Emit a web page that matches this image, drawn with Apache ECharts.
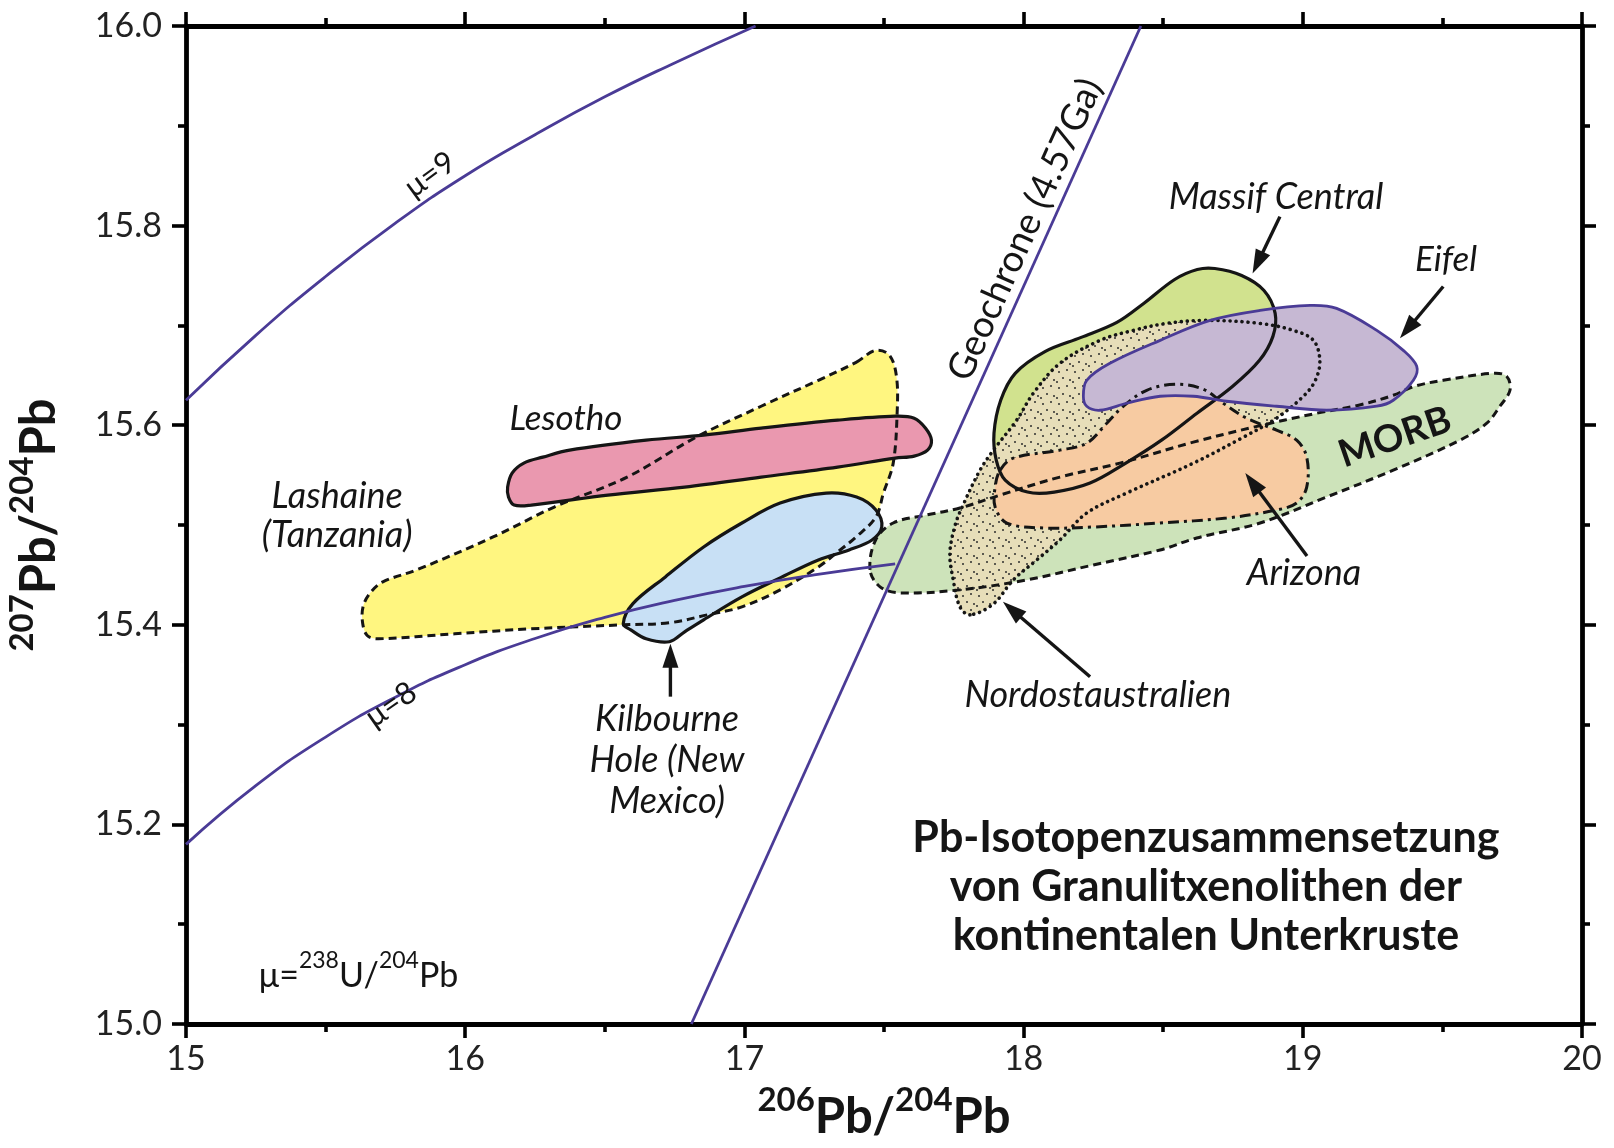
<!DOCTYPE html>
<html>
<head>
<meta charset="utf-8">
<title>Pb-Isotopenzusammensetzung von Granulitxenolithen</title>
<script src="https://cdn.jsdelivr.net/npm/echarts@6/dist/echarts.min.js"></script>
<style>
  html, body { margin: 0; padding: 0; background: #ffffff; }
  #chart { width: 1614px; height: 1148px; }
</style>
</head>
<body>
<div id="chart"></div>
<script>
// ---- axis ticks -------------------------------------------------------
const xTicks = [15, 16, 17, 18, 19, 20];
const yTicks = [15.0, 15.2, 15.4, 15.6, 15.8, 16.0];

// ---- reference curves (206Pb/204Pb, 207Pb/204Pb) ------------------------
const muNineCurve = [
  [15.0, 15.625], [15.25, 15.69], [15.5, 15.749], [15.75, 15.8025],
  [16.0, 15.85], [16.25, 15.891], [16.5, 15.929], [16.75, 15.963], [17.04, 16.0]
];
const muEightCurve = [
  [15.0, 15.18], [15.25, 15.2388], [15.5, 15.2875], [15.75, 15.3275],
  [16.0, 15.36], [16.25, 15.3863], [16.5, 15.4075], [16.75, 15.4245],
  [17.0, 15.4385], [17.25, 15.45], [17.54, 15.461]
];
const geochroneLine = [[16.81, 15.0], [18.42, 16.0]];

// ---- data fields --------------------------------------------------------
const lashaine = [
  [17.40, 15.663], [17.47, 15.675], [17.52, 15.670], [17.545, 15.648],
  [17.547, 15.612], [17.533, 15.562], [17.498, 15.532], [17.471, 15.508],
  [17.40, 15.488], [17.334, 15.473], [17.265, 15.458], [17.128, 15.435],
  [16.991, 15.418], [16.868, 15.410], [16.731, 15.402], [16.566, 15.400],
  [16.237, 15.396], [15.963, 15.391], [15.689, 15.386], [15.650, 15.389],
  [15.633, 15.401], [15.634, 15.418], [15.660, 15.432], [15.705, 15.443],
  [15.826, 15.455], [16.10, 15.488], [16.319, 15.518], [16.58, 15.548],
  [16.827, 15.588], [17.06, 15.619], [17.265, 15.645]
];
const lesotho = [
  [16.152, 15.538], [16.168, 15.552], [16.21, 15.562], [16.278, 15.568],
  [16.374, 15.575], [16.648, 15.585], [16.854, 15.590], [17.06, 15.597],
  [17.334, 15.605], [17.54, 15.609], [17.608, 15.607], [17.649, 15.597],
  [17.67, 15.585], [17.656, 15.575], [17.608, 15.569], [17.54, 15.567],
  [17.334, 15.558], [17.06, 15.548], [16.786, 15.538], [16.511, 15.530],
  [16.237, 15.520], [16.175, 15.520], [16.155, 15.528]
];
const kilbourne = [
  [16.566, 15.401], [16.60, 15.421], [16.717, 15.448], [16.854, 15.478],
  [16.991, 15.502], [17.128, 15.522], [17.293, 15.532], [17.402, 15.528],
  [17.471, 15.515], [17.492, 15.498], [17.457, 15.485], [17.375, 15.475],
  [17.265, 15.465], [17.128, 15.447], [16.991, 15.428], [16.854, 15.405],
  [16.786, 15.393], [16.731, 15.383], [16.648, 15.386], [16.593, 15.395]
];
const morb = [
  [17.45, 15.455], [17.47, 15.485], [17.533, 15.502], [17.653, 15.510],
  [17.772, 15.517], [17.916, 15.530], [18.13, 15.548], [18.345, 15.562],
  [18.608, 15.583], [18.823, 15.598], [19.05, 15.612], [19.20, 15.620],
  [19.324, 15.630], [19.40, 15.639], [19.503, 15.645], [19.682, 15.652],
  [19.73, 15.649], [19.742, 15.635], [19.706, 15.619], [19.659, 15.602],
  [19.563, 15.585], [19.324, 15.555], [19.085, 15.528], [18.847, 15.502],
  [18.62, 15.487], [18.489, 15.475], [18.25, 15.460], [18.011, 15.445],
  [17.772, 15.435], [17.557, 15.432], [17.486, 15.438]
];
const massifCentral = [
  [18.685, 15.757], [18.781, 15.750], [18.861, 15.735], [18.901, 15.712],
  [18.893, 15.689], [18.845, 15.665], [18.749, 15.639], [18.621, 15.612],
  [18.494, 15.585], [18.366, 15.562], [18.238, 15.542], [18.11, 15.533],
  [18.014, 15.533], [17.934, 15.545], [17.902, 15.565], [17.894, 15.592],
  [17.918, 15.625], [17.97, 15.652], [18.078, 15.674], [18.206, 15.688],
  [18.334, 15.703], [18.43, 15.722], [18.541, 15.746], [18.622, 15.756]
];
const nordostaustralien = [
  [17.808, 15.410], [17.772, 15.418], [17.748, 15.445], [17.736, 15.472],
  [17.755, 15.500], [17.78, 15.518], [17.844, 15.555], [17.892, 15.575],
  [17.975, 15.605], [18.035, 15.632], [18.13, 15.662], [18.274, 15.685],
  [18.393, 15.695], [18.512, 15.702], [18.653, 15.705], [18.847, 15.702],
  [18.966, 15.695], [19.038, 15.685], [19.061, 15.665], [19.045, 15.645],
  [19.002, 15.629], [18.906, 15.607], [18.787, 15.588], [18.608, 15.562],
  [18.369, 15.532], [18.226, 15.512], [18.13, 15.485], [18.047, 15.465],
  [17.963, 15.445], [17.892, 15.421]
];
const arizona = [
  [17.916, 15.555], [17.963, 15.567], [18.13, 15.575], [18.226, 15.582],
  [18.298, 15.602], [18.357, 15.619], [18.441, 15.635], [18.548, 15.641],
  [18.644, 15.636], [18.715, 15.622], [18.799, 15.607], [18.906, 15.595],
  [18.978, 15.585], [19.014, 15.568], [19.014, 15.538], [18.978, 15.522],
  [18.906, 15.515], [18.727, 15.507], [18.489, 15.502], [18.25, 15.498],
  [18.071, 15.497], [17.94, 15.502], [17.898, 15.518], [17.898, 15.538]
];
const eifel = [
  [18.214, 15.629], [18.226, 15.645], [18.309, 15.662], [18.489, 15.685],
  [18.668, 15.705], [18.847, 15.715], [19.026, 15.720], [19.121, 15.717],
  [19.265, 15.695], [19.36, 15.675], [19.408, 15.659], [19.396, 15.645],
  [19.324, 15.625], [19.265, 15.619], [19.085, 15.615], [18.906, 15.619],
  [18.727, 15.624], [18.608, 15.629], [18.489, 15.629], [18.369, 15.622],
  [18.274, 15.615], [18.226, 15.619]
];

// ---- pointer arrows (tail, tip) ------------------------------------------
const arrowTails = [[16.735, 15.328], [18.238, 15.348], [18.918, 15.809], [19.503, 15.739], [19.015, 15.469]];
const arrowTips  = [[16.735, 15.381], [17.926, 15.423], [18.82, 15.752], [19.348, 15.687], [18.794, 15.552]];

// ---- drawing setup --------------------------------------------------------
const FONT = 'Lato, "Open Sans", sans-serif';
const INK = '#151515';
const PURPLE = '#4a3b96';

// stippled fill for the north-east Australian field
const dotCanvas = document.createElement('canvas');
dotCanvas.width = 16; dotCanvas.height = 16;
(function () {
  const g = dotCanvas.getContext('2d');
  g.fillStyle = '#e7deb9';
  g.fillRect(0, 0, 16, 16);
  g.fillStyle = '#2e2e2e';
  [[3, 4], [11, 2], [7, 10], [14, 12], [1, 14]].forEach(function (p) {
    g.beginPath(); g.arc(p[0], p[1], 1.0, 0, Math.PI * 2); g.fill();
  });
})();

// fields in painting order (bottom to top)
const fields = [
  { pts: morb,              fill: '#cde3ba', stroke: INK,    width: 3,   dash: [8, 5] },
  { pts: lashaine,          fill: '#fff680', stroke: INK,    width: 3,   dash: [8, 5] },
  { pts: lesotho,           fill: '#ea98af', stroke: INK,    width: 3.2, dash: null },
  { pts: kilbourne,         fill: '#c8e0f5', stroke: INK,    width: 3.2, dash: null },
  { pts: massifCentral,     fill: '#d1e28e', stroke: INK,    width: 3.2, dash: null },
  { pts: nordostaustralien, fill: { image: dotCanvas, repeat: 'repeat' }, stroke: INK, width: 3.6, dash: [0.1, 6], cap: 'round' },
  { pts: arizona,           fill: '#f7cba2', stroke: INK,    width: 3,   dash: [11, 5, 3, 5] },
  { pts: eifel,             fill: '#c6b8d3', stroke: PURPLE, width: 2.8, dash: null }
];

function fieldShape(api, f) {
  return { points: f.pts.map(function (p) { return api.coord(p); }), smooth: 0.35 };
}
function renderFieldFill(params, api) {
  const f = fields[params.dataIndex];
  return { type: 'polygon', shape: fieldShape(api, f), style: { fill: f.fill, stroke: null } };
}
function renderFieldOutline(params, api) {
  const f = fields[params.dataIndex];
  return {
    type: 'polygon', shape: fieldShape(api, f),
    style: { fill: null, stroke: f.stroke, lineWidth: f.width, lineDash: f.dash || null, lineCap: f.cap || 'butt', lineJoin: 'round' }
  };
}
function renderArrow(params, api) {
  const p0 = api.coord(arrowTails[params.dataIndex]);
  const p1 = api.coord(arrowTips[params.dataIndex]);
  const dx = p1[0] - p0[0], dy = p1[1] - p0[1];
  const len = Math.sqrt(dx * dx + dy * dy);
  const ux = dx / len, uy = dy / len;
  const hl = 24, hw = 8;
  const bx = p1[0] - ux * hl, by = p1[1] - uy * hl;
  return {
    type: 'group',
    children: [
      { type: 'line', shape: { x1: p0[0], y1: p0[1], x2: bx + ux * 2, y2: by + uy * 2 }, style: { stroke: INK, lineWidth: 3.4 } },
      { type: 'polygon', shape: { points: [[p1[0], p1[1]], [bx - uy * hw, by + ux * hw], [bx + uy * hw, by - ux * hw]] }, style: { fill: INK } }
    ]
  };
}

// text annotations anchored in data space
const notes = [
  { at: [16.361, 15.606], text: 'Lesotho', style: 'italic', size: 35 },
  { at: [15.541, 15.509], text: 'Lashaine\n(Tanzania)', style: 'italic', size: 36, lh: 39 },
  { at: [16.723, 15.2645], text: 'Kilbourne\nHole (New\nMexico)', style: 'italic', size: 36, lh: 41 },
  { at: [18.266, 15.329], text: 'Nordostaustralien', style: 'italic', size: 36 },
  { at: [19.004, 15.452], text: 'Arizona', style: 'italic', size: 36 },
  { at: [18.904, 15.828], text: 'Massif Central', style: 'italic', size: 36 },
  { at: [19.513, 15.766], text: 'Eifel', style: 'italic', size: 35 },
  { at: [19.33, 15.588], text: 'MORB', weight: 'bold', size: 38, rot: 19 },
  { at: [18.005, 15.796], text: 'Geochrone (4.57Ga)', size: 37, rot: 65.8 },
  { at: [15.874, 15.851], text: 'μ=9', size: 31, rot: 36 },
  { at: [15.734, 15.320], text: 'μ=8', size: 31, rot: 35 },
  { at: [18.653, 15.137], text: 'Pb-Isotopenzusammensetzung\nvon Granulitxenolithen der\nkontinentalen Unterkruste', weight: 'bold', size: 43, lh: 49 },
  { at: [15.261, 15.053], text: '{n|μ=}{s|238}{n|U/}{s|204}{n|Pb}', align: 'left', rich: true }
];

function renderNote(params, api) {
  const n = notes[params.dataIndex];
  const p = api.coord(n.at);
  const style = {
    text: n.text,
    fill: INK,
    align: n.align || 'center',
    verticalAlign: 'middle',
    fontFamily: FONT,
    fontSize: n.size || 30,
    fontStyle: n.style || 'normal',
    fontWeight: n.weight || 'normal',
    lineHeight: n.lh || undefined
  };
  if (n.rich) {
    style.rich = {
      n: { fontFamily: FONT, fontSize: 34, lineHeight: 44, verticalAlign: 'bottom', fill: INK },
      s: { fontFamily: FONT, fontSize: 23, lineHeight: 44, verticalAlign: 'top', fill: INK }
    };
  }
  return {
    type: 'text', x: p[0], y: p[1],
    rotation: (n.rot || 0) * Math.PI / 180,
    style: style
  };
}

const axisLineStyle = { color: '#000', width: 4.8 };
const tickStyle = { color: '#000', width: 3.6 };
const titleRich = {
  b: { fontFamily: FONT, fontSize: 49, fontWeight: 'bold', lineHeight: 58, verticalAlign: 'bottom', color: INK },
  s: { fontFamily: FONT, fontSize: 33, fontWeight: 'bold', lineHeight: 58, verticalAlign: 'top', color: INK }
};

function makeX(position, showLabels) {
  const ax = {
    type: 'value', position: position,
    min: xTicks[0], max: xTicks[xTicks.length - 1], interval: 1,
    axisLine: { show: true, onZero: false, lineStyle: axisLineStyle },
    axisTick: { show: true, length: 14, lineStyle: tickStyle },
    minorTick: { show: true, splitNumber: 2, length: 8, lineStyle: tickStyle },
    splitLine: { show: false },
    axisLabel: { show: showLabels, fontFamily: FONT, fontSize: 34, color: '#222', margin: 18 }
  };
  if (showLabels) {
    ax.name = '{s|206}{b|Pb/}{s|204}{b|Pb}';
    ax.nameLocation = 'middle';
    ax.nameGap = 60;
    ax.nameTextStyle = { rich: titleRich };
  }
  return ax;
}
function makeY(position, showLabels) {
  const ax = {
    type: 'value', position: position,
    min: yTicks[0], max: yTicks[yTicks.length - 1], interval: 0.2,
    axisLine: { show: true, onZero: false, lineStyle: axisLineStyle },
    axisTick: { show: true, length: 14, lineStyle: tickStyle },
    minorTick: { show: true, splitNumber: 2, length: 8, lineStyle: tickStyle },
    splitLine: { show: false },
    axisLabel: { show: showLabels, fontFamily: FONT, fontSize: 34, color: '#222', margin: 24,
      formatter: function (v) { return v.toFixed(1); } }
  };
  if (showLabels) {
    ax.name = '{s|207}{b|Pb/}{s|204}{b|Pb}';
    ax.nameLocation = 'middle';
    ax.nameRotate = 90;
    ax.nameGap = 122;
    ax.nameTextStyle = { rich: titleRich };
  }
  return ax;
}

const chart = echarts.init(document.getElementById('chart'), null, { renderer: 'canvas' });
chart.setOption({
  animation: false,
  backgroundColor: '#ffffff',
  grid: { left: 186, right: 32, top: 26, bottom: 124, containLabel: false, outerBoundsMode: 'none' },
  xAxis: [makeX('bottom', true), makeX('top', false)],
  yAxis: [makeY('left', true), makeY('right', false)],
  series: [
    { type: 'custom', name: 'fields', coordinateSystem: 'cartesian2d', z: 2, silent: true,
      renderItem: renderFieldFill, data: fields.map(function (f) { return f.pts[0]; }) },
    { type: 'custom', name: 'field outlines', coordinateSystem: 'cartesian2d', z: 3, silent: true,
      renderItem: renderFieldOutline, data: fields.map(function (f) { return f.pts[0]; }) },
    { type: 'line', name: 'μ=9', data: muNineCurve, smooth: 0.5, showSymbol: false, z: 4, silent: true,
      lineStyle: { color: PURPLE, width: 2.8 } },
    { type: 'line', name: 'μ=8', data: muEightCurve, smooth: 0.5, showSymbol: false, z: 4, silent: true,
      lineStyle: { color: PURPLE, width: 2.8 } },
    { type: 'line', name: 'Geochrone', data: geochroneLine, showSymbol: false, z: 4, silent: true,
      lineStyle: { color: PURPLE, width: 2.8 } },
    { type: 'custom', name: 'arrows', coordinateSystem: 'cartesian2d', z: 5, silent: true,
      renderItem: renderArrow, data: arrowTips },
    { type: 'custom', name: 'labels', coordinateSystem: 'cartesian2d', z: 6, silent: true, clip: false,
      renderItem: renderNote, data: notes.map(function (n) { return n.at; }) }
  ]
});
</script>
</body>
</html>
